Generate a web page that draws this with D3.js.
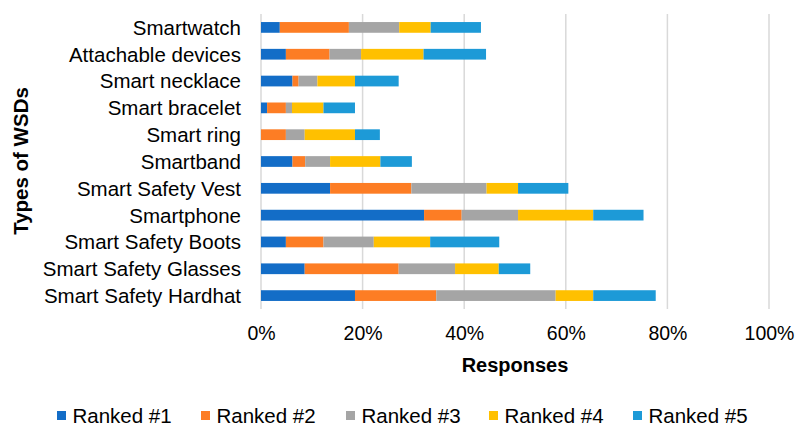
<!DOCTYPE html>
<html>
<head>
<meta charset="utf-8">
<script src="https://cdn.jsdelivr.net/npm/d3@7"></script>
<style>
  body { margin: 0; background: #fff; }
  text { font-family: "Liberation Sans", Arial, sans-serif; fill: #000; }
</style>
</head>
<body>
<div id="chart"></div>
<script>
// categories top to bottom
const categories = [
  "Smartwatch", "Attachable devices", "Smart necklace", "Smart bracelet",
  "Smart ring", "Smartband", "Smart Safety Vest", "Smartphone",
  "Smart Safety Boots", "Smart Safety Glasses", "Smart Safety Hardhat"
];
const seriesNames = ["Ranked #1", "Ranked #2", "Ranked #3", "Ranked #4", "Ranked #5"];
// share of responses (%)
const ranked1 = [3.7, 4.9, 6.2, 1.2, 0, 6.2, 13.6, 32.1, 4.9, 8.6, 18.5];
const ranked2 = [13.6, 8.6, 1.2, 3.7, 4.9, 2.5, 16.0, 7.4, 7.4, 18.5, 16.0];
const ranked3 = [9.9, 6.2, 3.7, 1.2, 3.7, 4.9, 14.8, 11.1, 9.9, 11.1, 23.5];
const ranked4 = [6.2, 12.3, 7.4, 6.2, 9.9, 9.9, 6.2, 14.8, 11.1, 8.6, 7.4];
const ranked5 = [9.9, 12.3, 8.6, 6.2, 4.9, 6.2, 9.9, 9.9, 13.6, 6.2, 12.3];
const xTicks = [0, 20, 40, 60, 80, 100];
const colors = ["#136dc7", "#fd7d24", "#a5a5a5", "#ffc000", "#1d9ad7"];

const W = 796, H = 428;
const margin = { top: 14, right: 27, bottom: 119, left: 261 },
  width = W - margin.left - margin.right,
  height = H - margin.top - margin.bottom;

const svg = d3.select("#chart")
  .append("svg")
  .attr("width", W)
  .attr("height", H);

const g = svg.append("g")
  .attr("transform", `translate(${margin.left},${margin.top})`);

const table = categories.map((c, i) => ({
  category: c,
  "Ranked #1": ranked1[i],
  "Ranked #2": ranked2[i],
  "Ranked #3": ranked3[i],
  "Ranked #4": ranked4[i],
  "Ranked #5": ranked5[i]
}));

const stacked = d3.stack().keys(seriesNames)(table);

const x = d3.scaleLinear().domain([0, 100]).range([0, width]);
const y = d3.scaleBand().domain(categories).range([0, height])
  .paddingInner(0.6).paddingOuter(0.3);
const color = d3.scaleOrdinal().domain(seriesNames).range(colors);

// gridlines
g.selectAll(".grid")
  .data(xTicks)
  .join("line")
  .attr("x1", d => x(d)).attr("x2", d => x(d))
  .attr("y1", 0).attr("y2", height)
  .attr("stroke", "#d9d9d9")
  .attr("stroke-width", 1.5);

// bars
g.selectAll(".series")
  .data(stacked)
  .join("g")
  .attr("fill", d => color(d.key))
  .selectAll("rect")
  .data(d => d)
  .join("rect")
  .attr("x", d => x(d[0]))
  .attr("y", d => y(d.data.category))
  .attr("width", d => x(d[1]) - x(d[0]))
  .attr("height", y.bandwidth());

// x axis
const xAxis = g.append("g")
  .attr("transform", `translate(0,${height})`)
  .call(d3.axisBottom(x).tickValues(xTicks).tickSize(0).tickPadding(17)
    .tickFormat(d => d + "%"));
xAxis.select(".domain").remove();
xAxis.selectAll("text")
  .style("font-family", "Liberation Sans, Arial, sans-serif")
  .style("font-size", "19.5px")
  .attr("fill", "#000");

// y axis
const yAxis = g.append("g")
  .call(d3.axisLeft(y).tickSize(0).tickPadding(20));
yAxis.select(".domain").remove();
yAxis.selectAll("text")
  .style("font-family", "Liberation Sans, Arial, sans-serif")
  .style("font-size", "20.5px")
  .attr("dy", "0.36em")
  .attr("fill", "#000");

// axis titles
svg.append("text")
  .attr("x", margin.left + width / 2)
  .attr("y", 372)
  .attr("text-anchor", "middle")
  .style("font-size", "20px")
  .style("font-weight", "bold")
  .text("Responses");

svg.append("text")
  .attr("transform", `translate(28,161) rotate(-90)`)
  .attr("text-anchor", "middle")
  .style("font-size", "20.5px")
  .style("font-weight", "bold")
  .text("Types of WSDs");

// legend
const legendX = [57, 201, 346, 489, 633];
const legend = svg.selectAll(".legend")
  .data(seriesNames)
  .join("g")
  .attr("transform", (d, i) => `translate(${legendX[i]},411)`);

legend.append("rect")
  .attr("width", 9)
  .attr("height", 9)
  .attr("fill", d => color(d));

legend.append("text")
  .attr("x", 15.5)
  .attr("y", 12)
  .style("font-size", "20.5px")
  .text(d => d);
</script>
</body>
</html>
